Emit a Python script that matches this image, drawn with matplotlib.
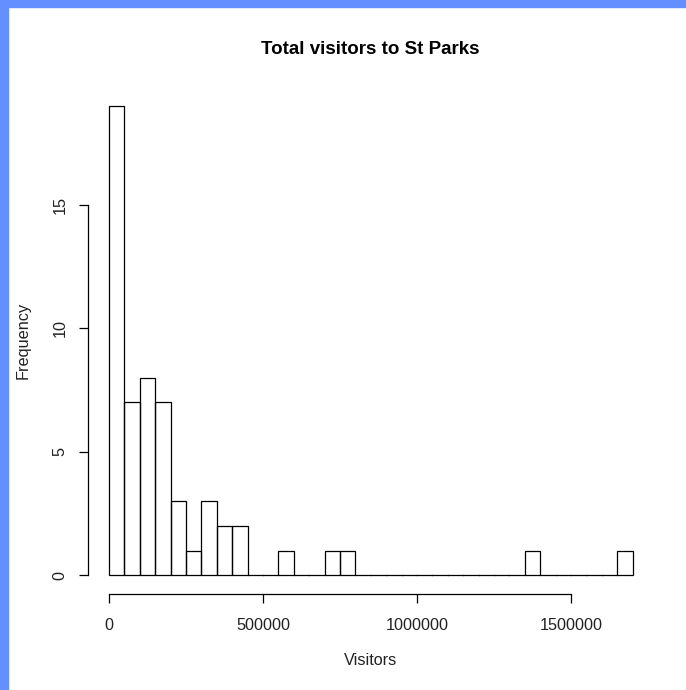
import numpy as np
import matplotlib.pyplot as plt
from matplotlib.patches import Rectangle

# visitor counts binned in steps of 50000
bin_width = 50000
bin_edges = np.arange(0, 1700001, bin_width)
counts = [19, 7, 8, 7, 3, 1, 3, 2, 2, 0, 0, 1, 0, 0, 1, 1, 0,
          0, 0, 0, 0, 0, 0, 0, 0, 0, 0, 1, 0, 0, 0, 0, 0, 1]
x_ticks = [0, 500000, 1000000, 1500000]
y_ticks = [0, 5, 10, 15]

plt.rcParams['font.family'] = ['Liberation Sans', 'DejaVu Sans']

fig = plt.figure(figsize=(6.86, 6.90), dpi=100)
ax = fig.add_axes([0.1283, 0.1391, 0.8243, 0.7341])

_, _, bars = ax.hist(bin_edges[:-1], bins=bin_edges, weights=counts, histtype='bar',
                     fill=False, edgecolor='black', linewidth=0.9)
for b in bars:
    b.set_capstyle('projecting')
    b.set_joinstyle('miter')

# R style padding around the data range
xr = bin_edges[-1] - bin_edges[0]
ax.set_xlim(bin_edges[0] - 0.04 * xr, bin_edges[-1] + 0.04 * xr)
ax.set_ylim(-0.04 * max(counts), max(counts) * 1.04)

for side in ['top', 'right']:
    ax.spines[side].set_visible(False)
ax.spines['left'].set_bounds(y_ticks[0], y_ticks[-1])
ax.spines['bottom'].set_bounds(x_ticks[0], x_ticks[-1])
for side in ['left', 'bottom']:
    ax.spines[side].set_linewidth(0.9)

ax.set_xticks(x_ticks)
ax.set_xticklabels([str(t) for t in x_ticks])
ax.set_yticks(y_ticks)
ax.set_yticklabels([str(t) for t in y_ticks], rotation=90, va='center')
ax.tick_params(length=6.5, width=0.9, labelsize=11.7, labelcolor='#222222')
ax.tick_params(axis='x', pad=11)
ax.tick_params(axis='y', pad=8)

ax.set_title('Total visitors to St Parks', fontsize=13.5, fontweight='bold', pad=24)
ax.set_xlabel('Visitors', fontsize=11.7, color='#222222', labelpad=14)
ax.set_ylabel('Frequency', fontsize=11.7, color='#222222', labelpad=16)

# blue frame along top and left edge
fig.patches.append(Rectangle((0, 0), 8 / 686, 1, transform=fig.transFigure,
                             color='#6490ff', zorder=10))
fig.patches.append(Rectangle((0, 1 - 7 / 690), 1, 7 / 690, transform=fig.transFigure,
                             color='#6490ff', zorder=10))

fig.savefig('out.png', dpi=100)
